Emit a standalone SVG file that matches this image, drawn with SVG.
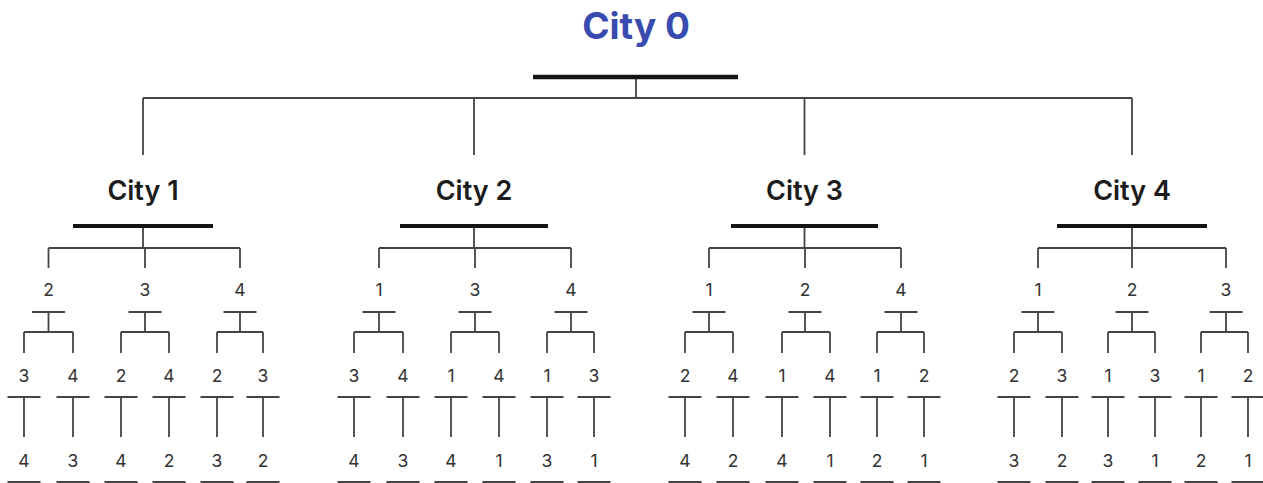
<svg xmlns="http://www.w3.org/2000/svg" width="1263" height="483" viewBox="0 0 1263 483">
<style>
.c0{font-family:Inter,"Noto Sans","Liberation Sans",sans-serif;font-weight:700;font-size:37px;fill:#3a4bb0;text-anchor:middle}
.city{font-family:Inter,"Noto Sans","Liberation Sans",sans-serif;font-weight:600;font-size:27px;fill:#1c1c1c;text-anchor:middle}
.lbl{font-family:Inter,"Noto Sans","Liberation Sans",sans-serif;font-weight:400;font-size:17.5px;fill:#333;text-anchor:middle}
.bar0{stroke:#151515;stroke-width:4.5;fill:none}
.bar{stroke:#151515;stroke-width:4;fill:none}
.tb{stroke:#444;stroke-width:2;fill:none}
.conn path{stroke:#444;stroke-width:1.8;fill:none}
</style>
<g class="conn" id="connectors">
<path d="M636 79V98M143 98H1132M143 98V155M474 98V155M804.5 98V155M1132 98V155"/>
<path d="M143 228V248M48.5 248H240M48.5 248V268M145 248V268M240 248V268"/>
<path d="M474 228V248M379 248H571M379 248V268M475 248V268M571 248V268"/>
<path d="M804.5 228V248M709 248H901M709 248V268M805 248V268M901 248V268"/>
<path d="M1132 228V248M1038 248H1226M1038 248V268M1132 248V268M1226 248V268"/>
<path d="M48.5 313V332M24 332H73M24 332V353M73 332V353M145 313V332M121 332H169M121 332V353M169 332V353M240 313V332M217 332H263M217 332V353M263 332V353"/>
<path d="M379 313V332M354 332H403M354 332V353M403 332V353M475 313V332M451 332H499M451 332V353M499 332V353M571 313V332M547 332H594M547 332V353M594 332V353"/>
<path d="M709 313V332M685 332H733M685 332V353M733 332V353M805 313V332M782 332H830M782 332V353M830 332V353M901 313V332M877 332H924M877 332V353M924 332V353"/>
<path d="M1038 313V332M1014 332H1062M1014 332V353M1062 332V353M1132 313V332M1108 332H1155M1108 332V353M1155 332V353M1226 313V332M1201 332H1248M1201 332V353M1248 332V353"/>
<path d="M24 398V437M73 398V437M121 398V437M169 398V437M217 398V437M263 398V437M354 398V437M403 398V437M451 398V437M499 398V437M547 398V437M594 398V437M685 398V437M733 398V437M782 398V437M830 398V437M877 398V437M924 398V437M1014 398V437M1062 398V437M1108 398V437M1155 398V437M1201 398V437M1248 398V437"/>
</g>
<g id="city0"><text class="c0" x="636" y="39">City 0</text><path class="bar0" d="M533 77H738"/></g>
<g id="city1"><text class="city" x="143" y="200">City 1</text><path class="bar" d="M73 226H213"/></g>
<g id="city2"><text class="city" x="474" y="200">City 2</text><path class="bar" d="M400 226H548"/></g>
<g id="city3"><text class="city" x="804.5" y="200">City 3</text><path class="bar" d="M731 226H878"/></g>
<g id="city4"><text class="city" x="1132" y="200">City 4</text><path class="bar" d="M1057 226H1207"/></g>
<g id="n1-2"><text class="lbl" x="48.5" y="296">2</text><path class="tb" d="M32 312H65"/></g>
<g id="n1-3"><text class="lbl" x="145" y="296">3</text><path class="tb" d="M128.5 312H161.5"/></g>
<g id="n1-4"><text class="lbl" x="240" y="296">4</text><path class="tb" d="M223.5 312H256.5"/></g>
<g id="n2-1"><text class="lbl" x="379" y="296">1</text><path class="tb" d="M362.5 312H395.5"/></g>
<g id="n2-3"><text class="lbl" x="475" y="296">3</text><path class="tb" d="M458.5 312H491.5"/></g>
<g id="n2-4"><text class="lbl" x="571" y="296">4</text><path class="tb" d="M554.5 312H587.5"/></g>
<g id="n3-1"><text class="lbl" x="709" y="296">1</text><path class="tb" d="M692.5 312H725.5"/></g>
<g id="n3-2"><text class="lbl" x="805" y="296">2</text><path class="tb" d="M788.5 312H821.5"/></g>
<g id="n3-4"><text class="lbl" x="901" y="296">4</text><path class="tb" d="M884.5 312H917.5"/></g>
<g id="n4-1"><text class="lbl" x="1038" y="296">1</text><path class="tb" d="M1021.5 312H1054.5"/></g>
<g id="n4-2"><text class="lbl" x="1132" y="296">2</text><path class="tb" d="M1115.5 312H1148.5"/></g>
<g id="n4-3"><text class="lbl" x="1226" y="296">3</text><path class="tb" d="M1209.5 312H1242.5"/></g>
<g id="n1-2-3"><text class="lbl" x="24" y="382">3</text><path class="tb" d="M7.5 397H40.5"/></g>
<g id="n1-2-4"><text class="lbl" x="73" y="382">4</text><path class="tb" d="M56.5 397H89.5"/></g>
<g id="n1-3-2"><text class="lbl" x="121" y="382">2</text><path class="tb" d="M104.5 397H137.5"/></g>
<g id="n1-3-4"><text class="lbl" x="169" y="382">4</text><path class="tb" d="M152.5 397H185.5"/></g>
<g id="n1-4-2"><text class="lbl" x="217" y="382">2</text><path class="tb" d="M200.5 397H233.5"/></g>
<g id="n1-4-3"><text class="lbl" x="263" y="382">3</text><path class="tb" d="M246.5 397H279.5"/></g>
<g id="n2-1-3"><text class="lbl" x="354" y="382">3</text><path class="tb" d="M337.5 397H370.5"/></g>
<g id="n2-1-4"><text class="lbl" x="403" y="382">4</text><path class="tb" d="M386.5 397H419.5"/></g>
<g id="n2-3-1"><text class="lbl" x="451" y="382">1</text><path class="tb" d="M434.5 397H467.5"/></g>
<g id="n2-3-4"><text class="lbl" x="499" y="382">4</text><path class="tb" d="M482.5 397H515.5"/></g>
<g id="n2-4-1"><text class="lbl" x="547" y="382">1</text><path class="tb" d="M530.5 397H563.5"/></g>
<g id="n2-4-3"><text class="lbl" x="594" y="382">3</text><path class="tb" d="M577.5 397H610.5"/></g>
<g id="n3-1-2"><text class="lbl" x="685" y="382">2</text><path class="tb" d="M668.5 397H701.5"/></g>
<g id="n3-1-4"><text class="lbl" x="733" y="382">4</text><path class="tb" d="M716.5 397H749.5"/></g>
<g id="n3-2-1"><text class="lbl" x="782" y="382">1</text><path class="tb" d="M765.5 397H798.5"/></g>
<g id="n3-2-4"><text class="lbl" x="830" y="382">4</text><path class="tb" d="M813.5 397H846.5"/></g>
<g id="n3-4-1"><text class="lbl" x="877" y="382">1</text><path class="tb" d="M860.5 397H893.5"/></g>
<g id="n3-4-2"><text class="lbl" x="924" y="382">2</text><path class="tb" d="M907.5 397H940.5"/></g>
<g id="n4-1-2"><text class="lbl" x="1014" y="382">2</text><path class="tb" d="M997.5 397H1030.5"/></g>
<g id="n4-1-3"><text class="lbl" x="1062" y="382">3</text><path class="tb" d="M1045.5 397H1078.5"/></g>
<g id="n4-2-1"><text class="lbl" x="1108" y="382">1</text><path class="tb" d="M1091.5 397H1124.5"/></g>
<g id="n4-2-3"><text class="lbl" x="1155" y="382">3</text><path class="tb" d="M1138.5 397H1171.5"/></g>
<g id="n4-3-1"><text class="lbl" x="1201" y="382">1</text><path class="tb" d="M1184.5 397H1217.5"/></g>
<g id="n4-3-2"><text class="lbl" x="1248" y="382">2</text><path class="tb" d="M1231.5 397H1264.5"/></g>
<g id="n1-2-3-4"><text class="lbl" x="24" y="467">4</text><path class="tb" d="M7.5 482H40.5"/></g>
<g id="n1-2-4-3"><text class="lbl" x="73" y="467">3</text><path class="tb" d="M56.5 482H89.5"/></g>
<g id="n1-3-2-4"><text class="lbl" x="121" y="467">4</text><path class="tb" d="M104.5 482H137.5"/></g>
<g id="n1-3-4-2"><text class="lbl" x="169" y="467">2</text><path class="tb" d="M152.5 482H185.5"/></g>
<g id="n1-4-2-3"><text class="lbl" x="217" y="467">3</text><path class="tb" d="M200.5 482H233.5"/></g>
<g id="n1-4-3-2"><text class="lbl" x="263" y="467">2</text><path class="tb" d="M246.5 482H279.5"/></g>
<g id="n2-1-3-4"><text class="lbl" x="354" y="467">4</text><path class="tb" d="M337.5 482H370.5"/></g>
<g id="n2-1-4-3"><text class="lbl" x="403" y="467">3</text><path class="tb" d="M386.5 482H419.5"/></g>
<g id="n2-3-1-4"><text class="lbl" x="451" y="467">4</text><path class="tb" d="M434.5 482H467.5"/></g>
<g id="n2-3-4-1"><text class="lbl" x="499" y="467">1</text><path class="tb" d="M482.5 482H515.5"/></g>
<g id="n2-4-1-3"><text class="lbl" x="547" y="467">3</text><path class="tb" d="M530.5 482H563.5"/></g>
<g id="n2-4-3-1"><text class="lbl" x="594" y="467">1</text><path class="tb" d="M577.5 482H610.5"/></g>
<g id="n3-1-2-4"><text class="lbl" x="685" y="467">4</text><path class="tb" d="M668.5 482H701.5"/></g>
<g id="n3-1-4-2"><text class="lbl" x="733" y="467">2</text><path class="tb" d="M716.5 482H749.5"/></g>
<g id="n3-2-1-4"><text class="lbl" x="782" y="467">4</text><path class="tb" d="M765.5 482H798.5"/></g>
<g id="n3-2-4-1"><text class="lbl" x="830" y="467">1</text><path class="tb" d="M813.5 482H846.5"/></g>
<g id="n3-4-1-2"><text class="lbl" x="877" y="467">2</text><path class="tb" d="M860.5 482H893.5"/></g>
<g id="n3-4-2-1"><text class="lbl" x="924" y="467">1</text><path class="tb" d="M907.5 482H940.5"/></g>
<g id="n4-1-2-3"><text class="lbl" x="1014" y="467">3</text><path class="tb" d="M997.5 482H1030.5"/></g>
<g id="n4-1-3-2"><text class="lbl" x="1062" y="467">2</text><path class="tb" d="M1045.5 482H1078.5"/></g>
<g id="n4-2-1-3"><text class="lbl" x="1108" y="467">3</text><path class="tb" d="M1091.5 482H1124.5"/></g>
<g id="n4-2-3-1"><text class="lbl" x="1155" y="467">1</text><path class="tb" d="M1138.5 482H1171.5"/></g>
<g id="n4-3-1-2"><text class="lbl" x="1201" y="467">2</text><path class="tb" d="M1184.5 482H1217.5"/></g>
<g id="n4-3-2-1"><text class="lbl" x="1248" y="467">1</text><path class="tb" d="M1231.5 482H1264.5"/></g>
</svg>
